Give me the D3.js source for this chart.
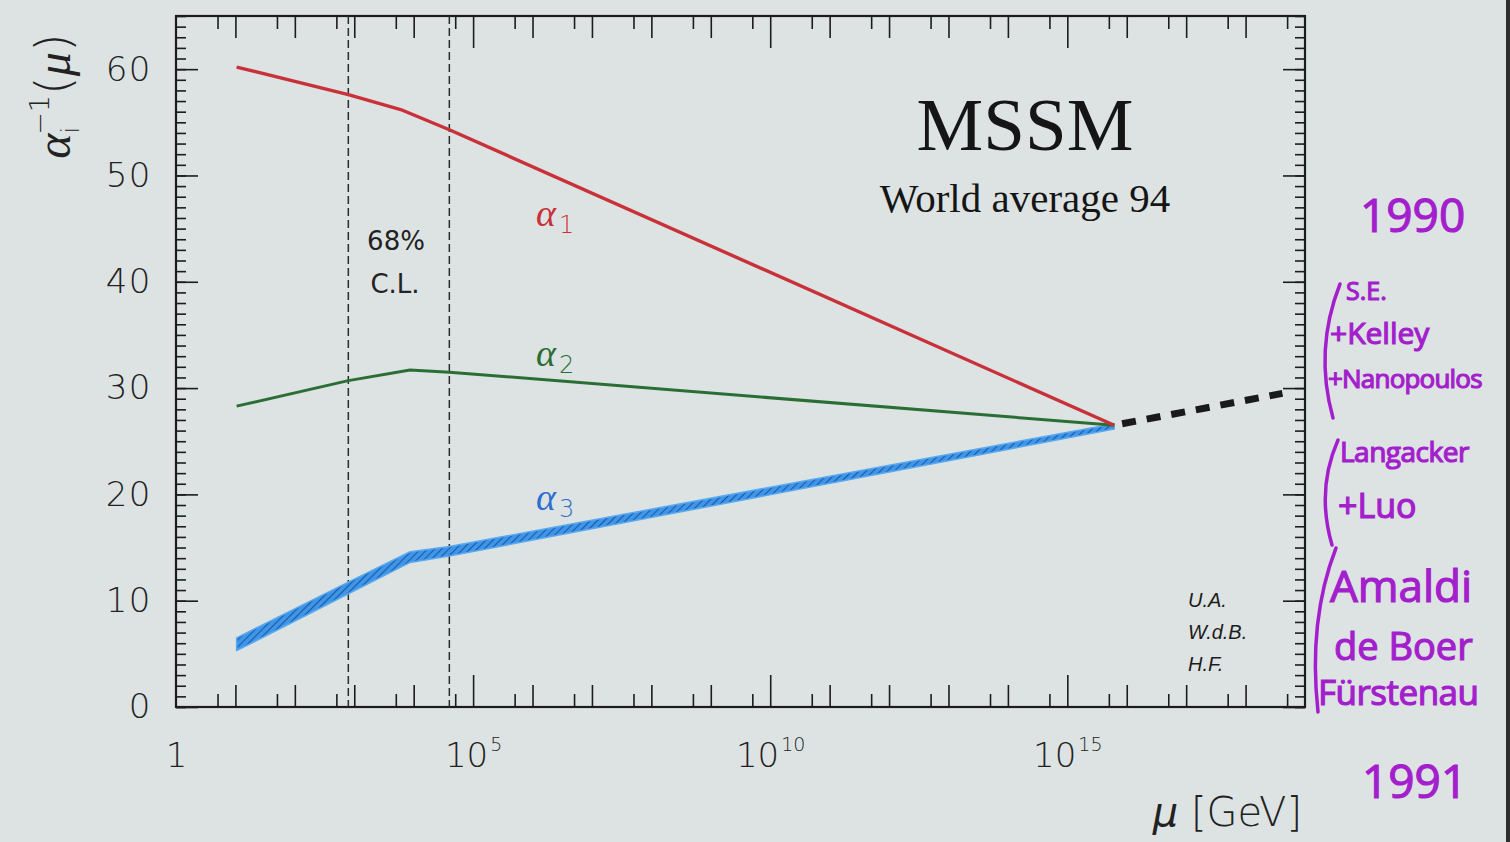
<!DOCTYPE html>
<html>
<head>
<meta charset="utf-8">
<script src="https://cdn.jsdelivr.net/npm/d3@7"></script>
<style>
  html, body { margin: 0; padding: 0; background: #dde3e3; }
  svg { display: block; }
</style>
</head>
<body>
<svg id="chart" width="1510" height="842"></svg>
<script>
// Running inverse gauge couplings alpha_i^-1(mu) in the MSSM.
// Scale positions are stored as log10(mu / GeV).
const alpha1LogMu = [1.02, 2.90, 3.78, 4.60, 15.79];
const alpha1Inv   = [60.2, 57.6, 56.2, 54.3, 26.5];
const alpha2LogMu = [1.02, 2.90, 3.94, 4.60, 15.79];
const alpha2Inv   = [28.3, 30.7, 31.7, 31.5, 26.5];
const alpha3LogMu = [1.02, 2.90, 3.94, 4.60, 15.79];
const alpha3Inv   = [5.9, 11.2, 14.1, 14.65, 26.4];
const alpha3Err   = [0.6, 0.55, 0.5, 0.45, 0.25];
// unified coupling above the GUT scale
const gutLogMu = [15.79, 18.62];
const gutInv   = [26.5, 29.5];
// 68% C.L. range of the SUSY threshold
const clLogMu = [2.90, 4.60];
// axis labels
const yTickValues = [0, 10, 20, 30, 40, 50, 60];
const xLabelExps  = [0, 5, 10, 15];

const svg = d3.select("#chart");
const W = 1510, H = 842;
const plotL = 176, plotR = 1305, plotT = 16, plotB = 707;

const x = d3.scaleLog().domain([1, 1e19]).range([plotL, plotR]);
const y = d3.scaleLinear().domain([0, 65]).range([plotB, plotT]);

const INK = "#1c1c1c";
const TICKFONT = "'DejaVu Sans', sans-serif";

// background
svg.append("rect").attr("width", W).attr("height", H).attr("fill", "#dde3e3");
// dark edge of the sheet on the right
svg.append("rect").attr("x", 1506).attr("y", 0).attr("width", 4).attr("height", H).attr("fill", "#2e2e2e");

const defs = svg.append("defs");
const hatch = defs.append("pattern")
  .attr("id", "hatch").attr("patternUnits", "userSpaceOnUse")
  .attr("width", 5).attr("height", 5)
  .attr("patternTransform", "rotate(45)");
hatch.append("rect").attr("width", 5).attr("height", 5).attr("fill", "#3f95e6");
hatch.append("line").attr("x1", 0).attr("y1", 0).attr("x2", 0).attr("y2", 5)
  .attr("stroke", "#1b58ad").attr("stroke-width", 2.2);

// ---- tick positions on the log axis ----
const minorX = d3.range(0, 19).map(n => 5 * Math.pow(10, n));
const decadeX = d3.range(1, 19).filter(n => n % 5 !== 0).map(n => Math.pow(10, n));
const bigX = [5, 10, 15].map(n => Math.pow(10, n));
const minorY = d3.range(0, 66);

function tickAxis(axis, tf) {
  const g = svg.append("g").attr("transform", tf).call(axis);
  g.select(".domain").remove();
  g.selectAll(".tick line").attr("stroke", INK).attr("stroke-width", 1.6);
  g.selectAll("text").remove();
  return g;
}

// bottom and top (inward ticks)
tickAxis(d3.axisBottom(x).tickValues(minorX).tickSize(-13), `translate(0,${plotB})`);
tickAxis(d3.axisBottom(x).tickValues(decadeX).tickSize(-22), `translate(0,${plotB})`);
tickAxis(d3.axisBottom(x).tickValues(bigX).tickSize(-32), `translate(0,${plotB})`);
tickAxis(d3.axisTop(x).tickValues(minorX).tickSize(-13), `translate(0,${plotT})`);
tickAxis(d3.axisTop(x).tickValues(decadeX).tickSize(-22), `translate(0,${plotT})`);
tickAxis(d3.axisTop(x).tickValues(bigX).tickSize(-32), `translate(0,${plotT})`);
// left and right
tickAxis(d3.axisLeft(y).tickValues(minorY).tickSize(-10), `translate(${plotL},0)`);
tickAxis(d3.axisLeft(y).tickValues(yTickValues).tickSize(-22), `translate(${plotL},0)`);
tickAxis(d3.axisRight(y).tickValues(minorY).tickSize(-10), `translate(${plotR},0)`);
tickAxis(d3.axisRight(y).tickValues(yTickValues).tickSize(-22), `translate(${plotR},0)`);

// frame
svg.append("rect")
  .attr("x", plotL).attr("y", plotT).attr("width", plotR - plotL).attr("height", plotB - plotT)
  .attr("fill", "none").attr("stroke", INK).attr("stroke-width", 2.2);

// ---- tick labels ----
const yLab = svg.append("g").attr("transform", `translate(${plotL},0)`)
  .call(d3.axisLeft(y).tickValues(yTickValues).tickSize(0).tickPadding(24));
yLab.select(".domain").remove();
yLab.selectAll("text")
  .attr("font-family", TICKFONT).attr("font-size", 34).attr("font-weight", 300)
  .attr("letter-spacing", 1.5).attr("fill", "#222");

const xLab = svg.append("g").attr("transform", `translate(0,${plotB})`)
  .call(d3.axisBottom(x).tickValues(xLabelExps.map(e => Math.pow(10, e))).tickSize(0).tickPadding(36)
    .tickFormat(() => ""));
xLab.select(".domain").remove();
xLab.selectAll("text")
  .attr("font-family", TICKFONT).attr("font-size", 34).attr("font-weight", 300).attr("fill", "#222")
  .each(function(d, i) {
    const e = xLabelExps[i];
    const t = d3.select(this);
    if (e === 0) { t.text("1"); return; }
    t.append("tspan").text("10");
    t.append("tspan").attr("font-size", 19).attr("dx", 2).attr("dy", -16).text(String(e));
  });

// axis titles
svg.append("text")
  .attr("x", 1302).attr("y", 826).attr("text-anchor", "end")
  .attr("font-family", TICKFONT).attr("font-size", 40).attr("font-weight", 300).attr("fill", "#222")
  .call(t => {
    t.append("tspan").attr("font-style", "italic").text("μ");
    t.append("tspan").text(" [GeV]");
  });

const yTitle = svg.append("text")
  .attr("transform", "translate(70,96) rotate(-90)")
  .attr("text-anchor", "middle")
  .attr("font-family", TICKFONT).attr("font-size", 48).attr("font-weight", 300).attr("fill", "#222");
yTitle.append("tspan").attr("font-style", "italic").attr("font-family", "'Liberation Serif', serif").text("α");
yTitle.append("tspan").attr("font-size", 24).attr("dy", 9).text("i");
yTitle.append("tspan").attr("font-size", 27).attr("dx", -8).attr("dy", -30).text("−1");
yTitle.append("tspan").attr("dy", 21).text("(");
yTitle.append("tspan").attr("font-style", "italic").attr("font-family", "'Liberation Serif', serif").text("μ");
yTitle.append("tspan").text(")");

// ---- 68% C.L. lines ----
svg.append("g").selectAll("line").data(clLogMu).join("line")
  .attr("x1", d => x(Math.pow(10, d))).attr("x2", d => x(Math.pow(10, d)))
  .attr("y1", plotT).attr("y2", plotB)
  .attr("stroke", "#2a2a2a").attr("stroke-width", 1.5).attr("stroke-dasharray", "8,4");

svg.append("text").attr("x", 396).attr("y", 250).attr("text-anchor", "middle")
  .attr("font-family", TICKFONT).attr("font-size", 26).attr("fill", "#222").text("68%");
svg.append("text").attr("x", 395).attr("y", 293).attr("text-anchor", "middle")
  .attr("font-family", TICKFONT).attr("font-size", 26).attr("fill", "#222").text("C.L.");

// ---- coupling curves ----
const rows = (xs, ys) => xs.map((v, i) => ({ mu: Math.pow(10, v), a: ys[i] }));
const line = d3.line().x(d => x(d.mu)).y(d => y(d.a));

// alpha_3 uncertainty band
const band3 = alpha3LogMu.map((v, i) => ({ mu: Math.pow(10, v), lo: alpha3Inv[i] - alpha3Err[i], hi: alpha3Inv[i] + alpha3Err[i] }));
svg.append("path").datum(band3)
  .attr("d", d3.area().x(d => x(d.mu)).y0(d => y(d.lo)).y1(d => y(d.hi)))
  .attr("fill", "url(#hatch)").attr("stroke", "#5aaaf0").attr("stroke-width", 1.5)
  .attr("stroke-linejoin", "round");

svg.append("path").datum(rows(alpha2LogMu, alpha2Inv))
  .attr("d", line).attr("fill", "none").attr("stroke", "#2b6e35").attr("stroke-width", 3)
  .attr("stroke-linejoin", "round");

svg.append("path").datum(rows(alpha1LogMu, alpha1Inv))
  .attr("d", line).attr("fill", "none").attr("stroke", "#c8313a").attr("stroke-width", 3.4)
  .attr("stroke-linejoin", "round");

// unified coupling continuation
svg.append("path").datum(rows(gutLogMu, gutInv))
  .attr("d", line).attr("fill", "none").attr("stroke", "#1a1a1a").attr("stroke-width", 7)
  .attr("stroke-dasharray", "14,11").attr("stroke-dashoffset", -8);

// curve labels
function alphaLabel(xp, yp, sub, color) {
  const t = svg.append("text").attr("x", xp).attr("y", yp)
    .attr("font-family", TICKFONT).attr("font-size", 38).attr("font-weight", 300).attr("fill", color);
  t.append("tspan").attr("font-style", "italic").attr("font-family", "'Liberation Serif', serif").text("α");
  t.append("tspan").attr("font-size", 24).attr("dx", 3).attr("dy", 7).text(sub);
}
alphaLabel(536, 226, "1", "#c8313a");
alphaLabel(536, 366, "2", "#2b6e35");
alphaLabel(536, 510, "3", "#2f6fd0");

// titles inside the frame
svg.append("text").attr("x", 1025).attr("y", 150).attr("text-anchor", "middle")
  .attr("font-family", "'Liberation Serif', 'Times New Roman', serif").attr("font-size", 75)
  .attr("fill", "#151515").text("MSSM");
svg.append("text").attr("x", 1025).attr("y", 212).attr("text-anchor", "middle")
  .attr("font-family", "'Liberation Serif', 'Times New Roman', serif").attr("font-size", 41)
  .attr("fill", "#151515").text("World average 94");

// authors
["U.A.", "W.d.B.", "H.F."].forEach((s, i) => {
  svg.append("text").attr("x", 1188).attr("y", 607 + i * 32)
    .attr("font-family", "'Liberation Sans', Arial, sans-serif").attr("font-size", 20)
    .attr("font-style", "italic").attr("fill", "#1c1c1c").text(s);
});

// ---- handwritten notes in the margin ----
const PEN = "#a41fcc";
const notes = svg.append("g")
  .attr("font-family", "'Open Sans', 'DejaVu Sans', sans-serif").attr("fill", PEN)
  .attr("stroke", PEN).attr("stroke-width", 1.2);
const note = (s, xp, yp, fs, ls) => notes.append("text").attr("x", xp).attr("y", yp)
  .attr("font-size", fs).attr("letter-spacing", ls || 0).text(s);
note("1990", 1360, 232, 46);
note("S.E.", 1346, 300, 25);
note("+Kelley", 1330, 344, 30);
note("+Nanopoulos", 1328, 388, 26, -0.8);
note("Langacker", 1340, 462, 28, -0.5);
note("+Luo", 1338, 518, 34);
note("Amaldi", 1330, 602, 44);
note("de Boer", 1334, 660, 38);
note("Fürstenau", 1318, 705, 35, -0.5);
note("1991", 1362, 798, 46);

const brackets = [
  "M1340,284 Q1314,350 1333,418",
  "M1338,440 Q1316,490 1332,545",
  "M1336,548 Q1308,620 1318,712"
];
svg.append("g").selectAll("path").data(brackets).join("path")
  .attr("d", d => d).attr("fill", "none").attr("stroke", PEN).attr("stroke-width", 3.5)
  .attr("stroke-linecap", "round");
</script>
</body>
</html>
